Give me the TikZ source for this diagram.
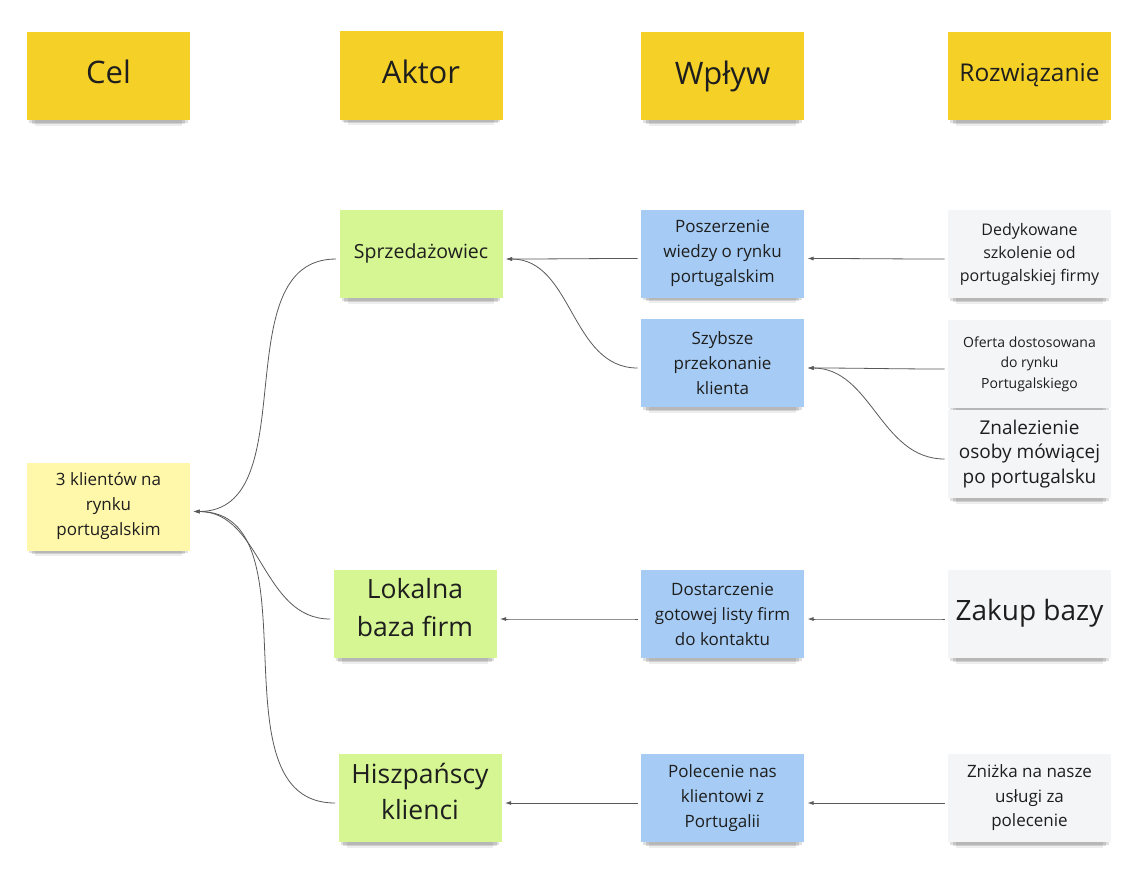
\documentclass[tikz,border=0pt]{standalone}
\usepackage{fontspec}
\setmainfont{Open Sans}
\usetikzlibrary{arrows.meta,shadows}

\definecolor{headyellow}{HTML}{F5D128}
\definecolor{goalyellow}{HTML}{FFF8AA}
\definecolor{actorgreen}{HTML}{D5F692}
\definecolor{impactblue}{HTML}{A6CCF5}
\definecolor{solgray}{HTML}{F4F5F7}
\definecolor{inkgray}{HTML}{1E1E1E}

\tikzset{
  note/.style={minimum width=163pt,minimum height=88pt,inner sep=0pt,outer sep=3.5pt,
    align=center,text=inkgray,
    general shadow={fill=black,opacity=.07,shadow scale=.9,shadow yshift=-11pt},
    general shadow={fill=black,opacity=.12,shadow scale=.94,shadow yshift=-7pt},
    general shadow={fill=black,opacity=.12,shadow scale=.97,shadow yshift=-4pt}},
  head/.style={note,fill=headyellow,font=\fontsize{31}{36}\selectfont},
  goal/.style={note,fill=goalyellow,font=\fontsize{17}{25}\selectfont},
  actor/.style={note,fill=actorgreen},
  impact/.style={note,fill=impactblue,font=\fontsize{17}{25}\selectfont},
  sol/.style={note,fill=solgray},
  link/.style={draw=black!65,line width=.8pt,-{Latex[length=6pt,width=4pt]}}
}

\begin{document}
\begin{tikzpicture}[x=1pt,y=-1pt]
  \useasboundingbox (0,0) rectangle (1142,875);

  % column headers
  \node[head,text depth=8pt] (cel) at (108.5,76) {Cel};
  \node[head,text depth=8pt] (aktor) at (421,75.5) {Aktor};
  \node[head] (wplyw) at (722.5,76) {Wpływ};
  \node[head,font=\fontsize{24.5}{28}\selectfont,text depth=6pt] (rozw) at (1029.5,76) {Rozwiązanie};

  % goal
  \node[goal] (goal) at (108.5,506.5) {3 klientów na\\rynku\\portugalskim};

  % actors
  \node[actor,font=\fontsize{19.5}{24}\selectfont,text depth=6pt] (sprz) at (421,254) {Sprzedażowiec};
  \node[actor,font=\fontsize{26.5}{38}\selectfont,text depth=14pt] (lokal) at (415,614) {Lokalna\\baza firm};
  \node[actor,font=\fontsize{26.5}{36}\selectfont,text depth=14pt] (hiszp) at (420,798) {Hiszpańscy\\klienci};

  % impacts
  \node[impact] (posz) at (722.5,253.5) {Poszerzenie\\wiedzy o rynku\\portugalskim};
  \node[impact] (szyb) at (722.5,363) {Szybsze\\przekonanie\\klienta};
  \node[impact] (dost) at (722.5,614) {Dostarczenie\\gotowej listy firm\\do kontaktu};
  \node[impact] (pol) at (722.5,798) {Polecenie nas\\klientowi z\\Portugalii};

  % solutions
  \node[sol,font=\fontsize{16}{23}\selectfont] (dedyk) at (1029.5,254) {Dedykowane\\szkolenie od\\portugalskiej firmy};
  \node[sol,font=\fontsize{14}{20.5}\selectfont] (oferta) at (1029.5,364) {Oferta dostosowana\\do rynku\\Portugalskiego};
  \node[sol,font=\fontsize{19}{24.5}\selectfont] (znal) at (1029.5,454) {Znalezienie\\osoby mówiącej\\po portugalsku};
  \node[sol,font=\fontsize{28}{32}\selectfont,text depth=8pt] (zakup) at (1029.5,614) {Zakup bazy};
  \node[sol,font=\fontsize{17}{24.5}\selectfont] (znizka) at (1029.5,798) {Zniżka na nasze\\usługi za\\polecenie};

  % connectors
  \foreach \from/\to in {sprz/goal,lokal/goal,hiszp/goal,
      posz/sprz,szyb/sprz,dost/lokal,pol/hiszp,
      dedyk/posz,oferta/szyb,znal/szyb,zakup/dost,znizka/pol}
    \draw[link] ([yshift=-5pt]\from.west) to[out=180,in=0] ([yshift=-5pt]\to.east);
\end{tikzpicture}
\end{document}
